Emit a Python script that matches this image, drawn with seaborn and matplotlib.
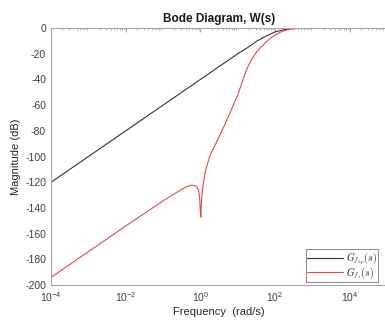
import numpy as np
import pandas as pd
import matplotlib
matplotlib.use('Agg')
import matplotlib.pyplot as plt
import seaborn as sns

# log10 frequency (rad/s) and magnitude (dB)
hp_logw = [-4, -3, -2, -1, 0, 0.5, 1, 1.25, 1.5, 1.75, 2, 2.25, 2.5, 2.75, 3, 4, 5]
hp_db = [-120, -100, -80, -60, -40, -30, -20.04, -15.5, -10.4, -6.4, -3, -1.2, -0.4, -0.14, -0.04, 0, 0]

s_logw = [-4, -3, -2, -1, -0.7, -0.5, -0.35, -0.23, -0.15, -0.1, -0.05, -0.02, 0.0, 0.013,
          0.025, 0.056, 0.125, 0.26, 0.48, 0.75, 1.0, 1.12, 1.2, 1.29, 1.38, 1.47, 1.6,
          1.74, 1.87, 2.0, 2.14, 2.27, 2.45, 2.7, 3, 4, 5]
s_db = [-194, -174, -154, -134.5, -129, -125.5, -123.2, -122.2, -122.6, -123.5, -126, -132,
        -144, -147, -136, -126, -112, -99, -86, -69, -52, -42, -35, -29, -24, -20, -15.5,
        -11.5, -8, -5.5, -3.3, -1.8, -0.7, -0.2, 0, 0, 0]

labels = [r'$G_{f_{hp}}(s)$', r'$G_{f_s}(s)$']

df = pd.concat([
    pd.DataFrame({'w': 10.0 ** np.array(hp_logw), 'mag': hp_db, 'sys': labels[0]}),
    pd.DataFrame({'w': 10.0 ** np.array(s_logw), 'mag': s_db, 'sys': labels[1]}),
])

sns.set_style('white')
plt.rcParams['font.family'] = ['Arial', 'Liberation Sans', 'DejaVu Sans']
plt.rcParams['mathtext.fontset'] = 'cm'
plt.rcParams['axes.unicode_minus'] = False

fig = plt.figure(figsize=(3.85, 3.2), dpi=100)
ax = fig.add_axes([0.1325, 0.109, 0.873, 0.8035])

sns.lineplot(data=df, x='w', y='mag', hue='sys', palette=['#333333', '#e8474a'],
             linewidth=0.8, ax=ax, sort=False)
ax.set_xscale('log')
ax.set_xlim(1e-4, 1e5)
ax.set_ylim(-200, 0)
ax.set_yticks(np.arange(-200, 1, 20))
ax.set_xticks([1e-4, 1e-2, 1e0, 1e2, 1e4])
ax.xaxis.set_minor_locator(matplotlib.ticker.LogLocator(base=10, subs=np.arange(2, 10)))
ax.xaxis.set_minor_formatter(matplotlib.ticker.NullFormatter())

for sp in ax.spines.values():
    sp.set_color('#a6a6a6')
    sp.set_linewidth(0.8)
ax.tick_params(which='both', direction='in', top=True, right=False, colors='#a6a6a6',
               labelcolor='#404040', labelsize=7.5)
ax.tick_params(which='major', length=3)
ax.tick_params(which='minor', length=1.5)

ax.set_title('Bode Diagram, W(s)', fontsize=8.5, fontweight='bold', color='#1a1a1a', pad=4)
ax.set_xlabel('Frequency  (rad/s)', fontsize=8, color='#262626', labelpad=2)
ax.set_ylabel('Magnitude (dB)', fontsize=8, color='#262626', labelpad=3)

leg = ax.legend(loc='lower right', fontsize=7.2, frameon=True, fancybox=False,
                borderpad=0.1, handlelength=3.6, handletextpad=0.3,
                labelspacing=-0.15, borderaxespad=0, bbox_to_anchor=(0.973, 0.012))
leg.get_frame().set_edgecolor('#555555')
leg.get_frame().set_linewidth(0.6)
leg.set_title(None)

fig.savefig('out.png', dpi=100)
